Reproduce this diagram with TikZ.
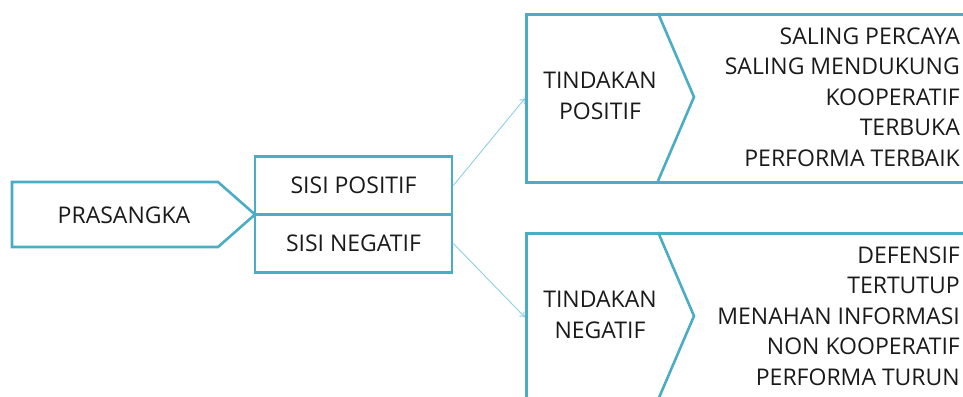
\documentclass[tikz,border=0pt]{standalone}
\usepackage{fontspec}
\setmainfont{Open Sans}
\usetikzlibrary{arrows.meta}
\definecolor{frameBlue}{HTML}{4BACC6}
\definecolor{linkBlue}{HTML}{8FD0E0}
\definecolor{textGrey}{HTML}{1A1A1A}

\begin{document}
\begin{tikzpicture}[x=1pt, y=-1pt,
  font=\fontsize{23}{30.5}\selectfont, text=textGrey,
  framed/.style={draw=frameBlue, line width=2.6pt},
  sidebox/.style={framed, minimum width=197pt, minimum height=58pt, inner sep=0pt},
  bigbox/.style={framed, anchor=north west, minimum width=480pt, minimum height=168pt, inner sep=0pt},
  headtext/.style={align=center, inner sep=0pt},
  itemlist/.style={align=right, anchor=east, inner sep=0pt},
  linkarrow/.style={-{To[length=5pt,width=7pt]}, draw=linkBlue, line width=0.9pt},
]
\useasboundingbox (0,0) rectangle (963,396);
\clip (0,0) rectangle (963,396);

% left arrow box
\draw[framed] (12,182) -- (218,182) -- (255,214.5) -- (218,247) -- (12,247) -- cycle;
\node[headtext] (prasangka) at (124,215) {PRASANGKA};

% two sides
\node[sidebox] (sisipos) at (353.5,185.5) {SISI POSITIF};
\node[sidebox] (sisineg) at (353.5,243.5) {SISI NEGATIF};

% positive action
\node[bigbox] (tpos) at (525,13) {};
\draw[framed] (658,13) -- (694,97) -- (658,181);
\node[headtext] (tposhead) at (600,96) {TINDAKAN\\POSITIF};
\node[itemlist] (tposlist) at (960,97) {SALING PERCAYA\\SALING MENDUKUNG\\KOOPERATIF\\TERBUKA\\PERFORMA TERBAIK};

% negative action
\node[bigbox] (tneg) at (525,232) {};
\draw[framed] (658,232) -- (694,316) -- (658,400);
\node[headtext] (tneghead) at (600,315) {TINDAKAN\\NEGATIF};
\node[itemlist] (tneglist) at (960,316) {DEFENSIF\\TERTUTUP\\MENAHAN INFORMASI\\NON KOOPERATIF\\PERFORMA TURUN};

\draw[linkarrow] (sisipos.east) -- (tpos.west);
\draw[linkarrow] (sisineg.east) -- (tneg.west);
\end{tikzpicture}
\end{document}
